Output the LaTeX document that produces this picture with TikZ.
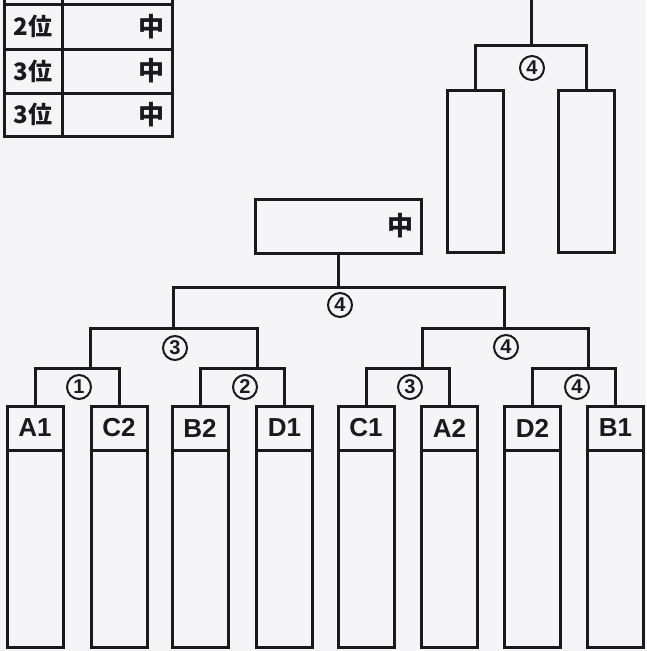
\documentclass[tikz,border=0pt]{standalone}
\usepackage{fontspec}
\setmainfont{Liberation Sans}
\newfontfamily\cjk{Noto Sans CJK JP}
\definecolor{paper}{RGB}{245,245,247}
\definecolor{ink}{RGB}{25,25,30}
\begin{document}
\begin{tikzpicture}[x=1pt,y=-1pt,
  wire/.style={draw=ink, line width=3pt},
  hdr/.style={draw=ink, line width=3pt, minimum width=56pt, minimum height=44pt,
    inner sep=0pt, outer sep=0pt, text=ink, font=\bfseries\fontsize{26}{26}\selectfont},
  body/.style={draw=ink, line width=3pt, minimum width=56pt, minimum height=197pt,
    inner sep=0pt, outer sep=0pt, anchor=north},
  tall/.style={draw=ink, line width=3pt, minimum width=56pt, minimum height=162pt,
    inner sep=0pt, outer sep=0pt},
  num/.style={circle, draw=ink, line width=2pt, minimum size=24pt, inner sep=0pt,
    text=ink, font=\bfseries\fontsize{20}{20}\selectfont},
  lcell/.style={draw=ink, line width=3pt, minimum width=58pt, minimum height=#1,
    inner sep=0pt, outer sep=0pt, text=ink, font=\cjk\bfseries\fontsize{24}{24}\selectfont},
  vcell/.style={draw=ink, line width=3pt, minimum height=#1, text width=94pt,
    inner xsep=8pt, inner ysep=0pt, outer sep=0pt, align=right, text=ink,
    font=\cjk\bfseries\fontsize{26}{26}\selectfont},
]
\useasboundingbox (0,0) rectangle (646,651);
\clip (0,0) rectangle (646,651);
\fill[paper] (0,0) rectangle (646,651);

% ---- ranking table (top left) ----
\node[lcell=48pt] (L0) at (33,-20) {};
\node[vcell=48pt] (V0) at (117,-20) {};
\node[lcell=45pt] (L1) at (33,26.5) {2位};
\node[vcell=45pt] (V1) at (117,26.5) {中};
\node[lcell=44pt] (L2) at (33,71) {3位};
\node[vcell=44pt] (V2) at (117,71) {中};
\node[lcell=43pt] (L3) at (33,114.5) {3位};
\node[vcell=43pt] (V3) at (117,114.5) {中};

% ---- first-round boxes ----
\foreach \n/\x in {A1/35,C2/119,B2/200,D1/284.5,C1/366,A2/449.5,D2/532.5,B1/615.5}{
  \node[hdr] (\n) at (\x,428) {\n};
  \node[body] (\n b) at (\n.south) {};
}

% ---- bracket joints ----
\coordinate (b1) at (90,368);
\coordinate (b2) at (257,368);
\coordinate (b3) at (422,368);
\coordinate (b4) at (588,368);
\coordinate (c1) at (173,328);
\coordinate (c2) at (504,328);
\coordinate (t) at (338.5,287);

\draw[wire] (A1.north) |- (b1) -| (C2.north);
\draw[wire] (B2.north) |- (b2) -| (D1.north);
\draw[wire] (C1.north) |- (b3) -| (A2.north);
\draw[wire] (D2.north) |- (b4) -| (B1.north);
\draw[wire] (b1) |- (c1) -| (b2);
\draw[wire] (b3) |- (c2) -| (b4);
\draw[wire] (c1) |- (t) -| (c2);

% ---- winner box ----
\node[draw=ink, line width=3pt, minimum height=54pt, text width=150pt, inner xsep=8pt,
  inner ysep=0pt, outer sep=0pt, align=right, text=ink,
  font=\cjk\bfseries\fontsize{26}{26}\selectfont] (M) at (338.5,226) {中};
\draw[wire] (M.south) -- (t);

% ---- round labels ----
\node[num] (n1) at (79,387) {1};
\node[num] (n2) at (245,387) {2};
\node[num] (n3) at (410,387) {3};
\node[num] (n4) at (577,387) {4};
\node[num] (n5) at (175,348) {3};
\node[num] (n6) at (506,347) {4};
\node[num] (n7) at (340,305) {4};

% ---- top-right bracket ----
\node[tall] (P) at (475.5,171) {};
\node[tall] (Q) at (586,171) {};
\coordinate (tr) at (531,45);
\coordinate (tp) at (531,-5);
\draw[wire] (P.north) |- (tr) -| (Q.north);
\draw[wire] (tr) -- (tp);
\node[num] (n8) at (532,68) {4};
\end{tikzpicture}
\end{document}
